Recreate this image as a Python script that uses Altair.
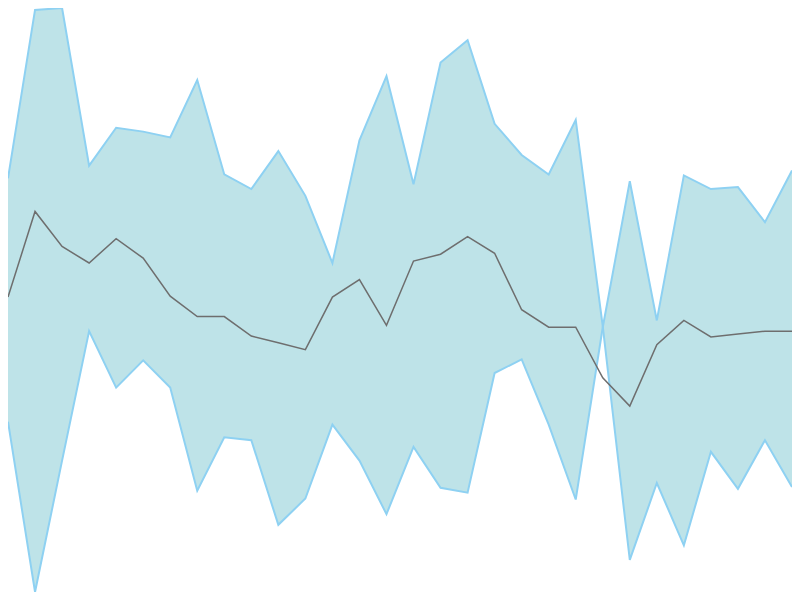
import altair as alt
import pandas as pd

idx = list(range(30))
upper_px = [175, 2, 0, 162, 123, 127, 133, 74, 171, 186, 147, 193, 262, 136, 70, 181, 56, 33, 119, 151, 171, 115, 327, 567, 488, 552, 456, 494, 444, 492]
lower_px = [425, 600, 465, 332, 390, 362, 390, 496, 441, 444, 531, 504, 428, 465, 520, 451, 493, 498, 375, 361, 428, 505, 328, 178, 321, 172, 186, 184, 220, 167]
mid_px = [297, 209, 245, 262, 237, 257, 296, 317, 317, 337, 344, 351, 297, 279, 326, 260, 253, 235, 252, 310, 328, 328, 380, 409, 346, 321, 338, 335, 332, 332]

upper = [600 - v for v in upper_px]
lower = [600 - v for v in lower_px]
mid = [600 - v for v in mid_px]

df = pd.DataFrame({"i": idx, "upper": upper, "lower": lower, "mid": mid})

xs = alt.Scale(domain=[0, 29], nice=False, zero=False)
ys = alt.Scale(domain=[0, 600], nice=False, zero=False)
X = alt.X("i:Q", scale=xs, axis=None)

base = alt.Chart(df)
band = base.mark_area(color="#BEE3E8", opacity=1).encode(
    x=X, y=alt.Y("upper:Q", scale=ys, axis=None), y2="lower:Q")
up = base.mark_line(color="#8ED1F2", strokeWidth=2).encode(
    x=X, y=alt.Y("upper:Q", scale=ys, axis=None))
lo = base.mark_line(color="#8ED1F2", strokeWidth=2).encode(
    x=X, y=alt.Y("lower:Q", scale=ys, axis=None))
md = base.mark_line(color="#6E6E6E", strokeWidth=1.5).encode(
    x=X, y=alt.Y("mid:Q", scale=ys, axis=None))

chart = alt.layer(band, up, lo, md).properties(
    width=784, height=584, padding=0,
    autosize=alt.AutoSizeParams(type="none")
).configure_view(stroke=None)

chart.save("out.html", embed_options={"renderer": "svg", "actions": False})
